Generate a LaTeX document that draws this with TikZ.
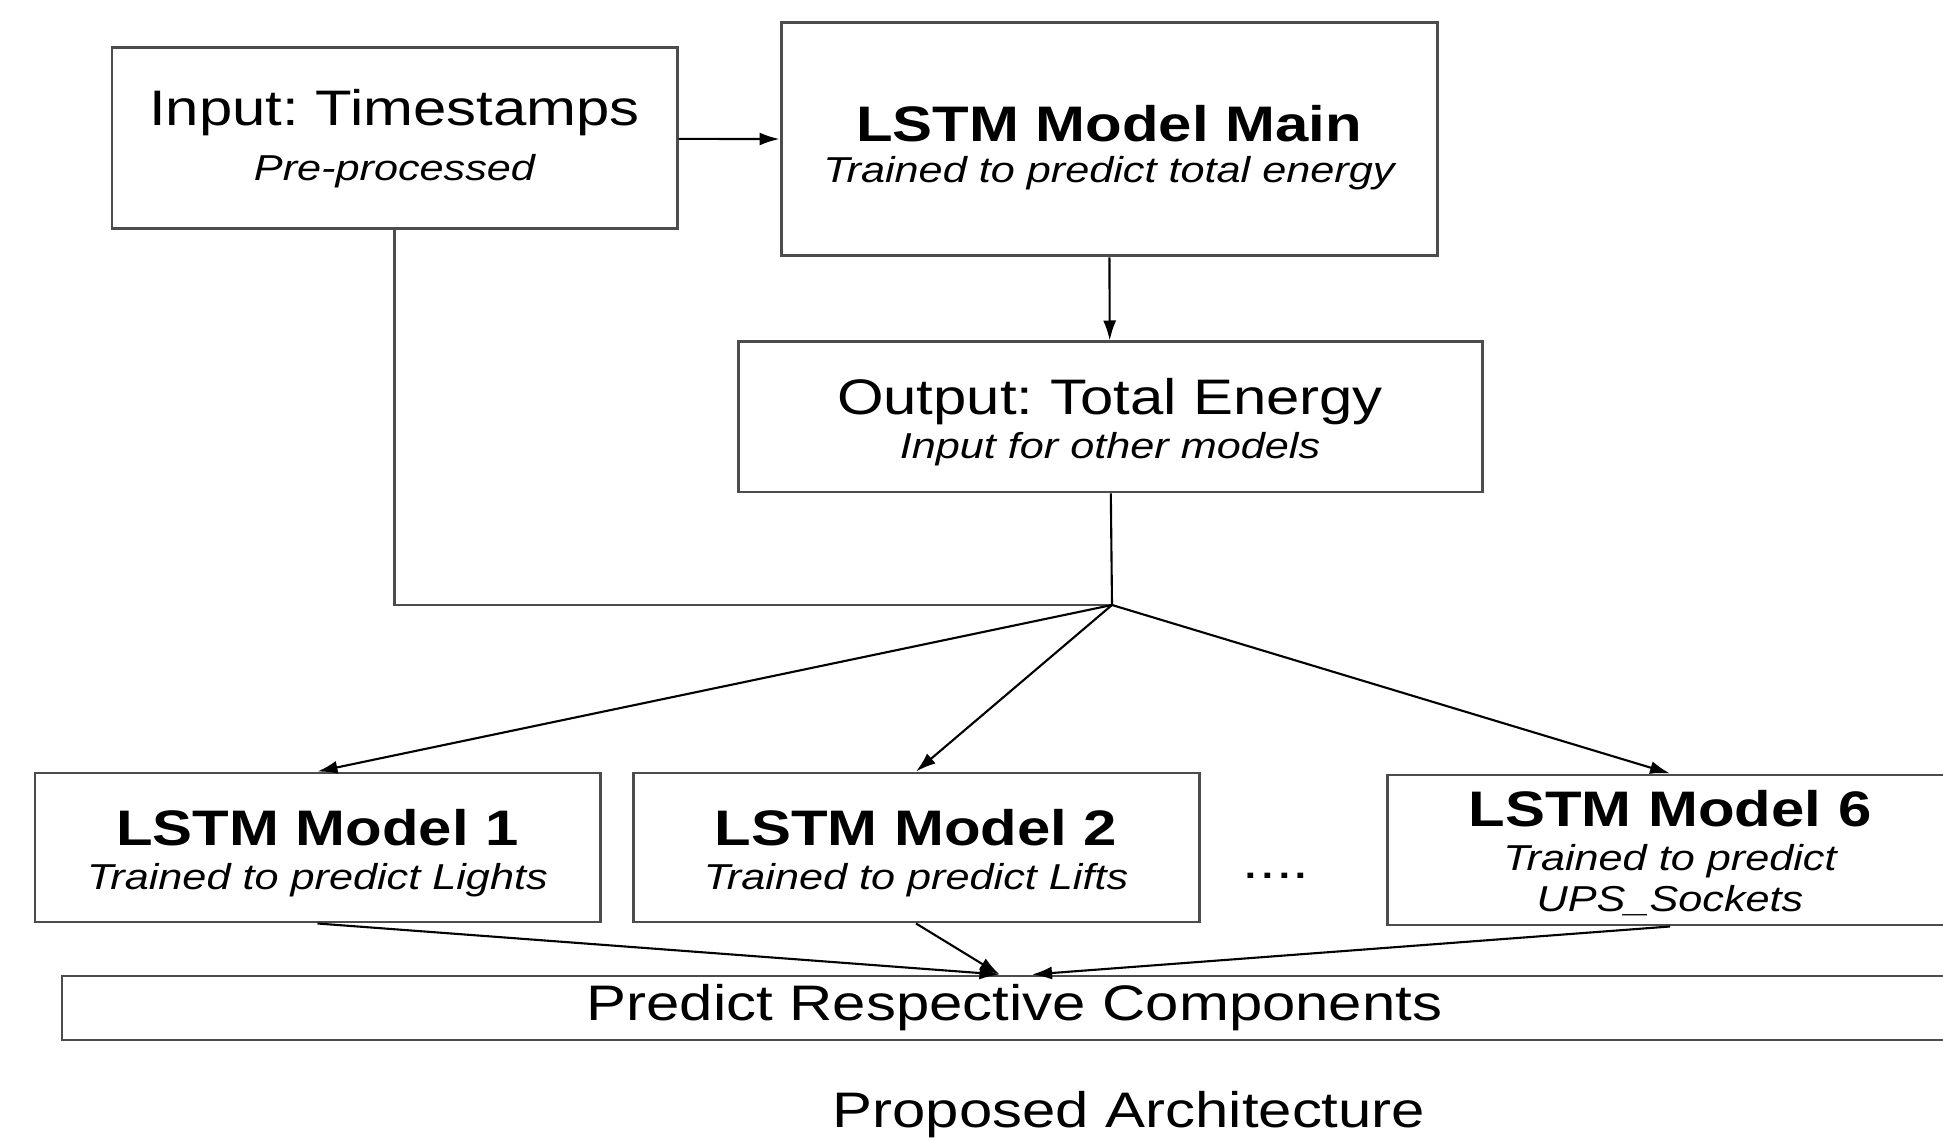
\documentclass[tikz,border=0pt]{standalone}
\usepackage{fontspec}
\setmainfont[FakeStretch=1.2]{Liberation Sans}
\usetikzlibrary{arrows.meta}
\frenchspacing

\newcommand{\subnote}[1]{{\fontsize{10.25}{12}\selectfont\itshape #1}}
\newcommand{\lowtext}[1]{\rule{0pt}{#1}}

\begin{document}
\begin{tikzpicture}[>={Latex[length=2mm,width=1.3mm]},
  font=\fontsize{14.2}{15.5}\selectfont,
  blk/.style={draw=black!70, line width=0.85pt, align=center, inner sep=0pt},
  lnk/.style={->, line width=0.6pt}]

\clip (0,0) rectangle (19.43,11.40);
%\draw[step=1cm,gray!30] (0,0) grid (19,11);

\node[blk, minimum width=5.65cm, minimum height=1.81cm] (inp) at (3.945,10.015)
  {Input: Timestamps\\ \subnote{Pre-processed}};
\node[blk, minimum width=6.56cm, minimum height=2.33cm] (main) at (11.09,10.005)
  {\lowtext{15pt}\textbf{LSTM Model Main}\\[-4pt] \subnote{Trained to predict total energy}};
\node[blk, minimum width=7.44cm, minimum height=1.50cm] (out) at (11.10,7.23)
  {\lowtext{13pt}Output: Total Energy\\[-3pt] \subnote{Input for other models}};

\node[blk, minimum width=5.65cm, minimum height=1.49cm] (mod1) at (3.175,2.925)
  {\lowtext{13.5pt}\textbf{LSTM Model 1}\\[-3pt] \subnote{Trained to predict Lights}};
\node[blk, minimum width=5.66cm, minimum height=1.49cm] (mod2) at (9.16,2.925)
  {\lowtext{13.5pt}\textbf{LSTM Model 2}\\[-3pt] \subnote{Trained to predict Lifts}};
\node[blk, minimum width=5.65cm, minimum height=1.50cm] (mod6) at (16.70,2.90)
  {\lowtext{12pt}\textbf{LSTM Model 6}\\[-3pt] \subnote{Trained to predict}\\[-4pt] \subnote{UPS\_Sockets}};
\node (dots) at (12.76,2.64) {....};

\node[blk, minimum width=19.05cm, minimum height=0.64cm] (pred) at (10.145,1.32)
  {Predict Respective Components};
\node (cap) at (11.29,0.25) {Proposed Architecture};

\coordinate (split) at (11.12,5.35);
\coordinate (p1) at ([xshift=-1.5mm]pred.north);
\coordinate (p6) at ([xshift=1.75mm]pred.north);

\draw[lnk] (inp) -- (main);
\draw[lnk] (main) -- (out);
\draw[line width=0.6pt] (out) -- (split);
\draw[draw=black!70, line width=0.85pt] (inp) |- (split);

\foreach \m in {mod1,mod2,mod6}
\draw[lnk] (split) -- (\m.north);

\draw[lnk] (mod1.south) -- (p1);
\draw[lnk] (mod2.south) -- (p1);
\draw[lnk] (mod6.south) -- (p6);

\end{tikzpicture}
\end{document}
